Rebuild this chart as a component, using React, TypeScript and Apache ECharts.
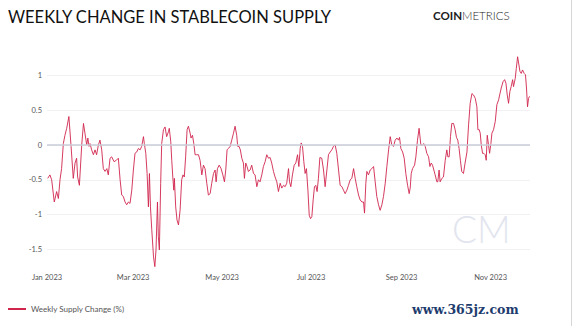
import React, { useEffect, useRef } from "react";
import * as echarts from "echarts";

// Day offsets from 2023-01-01 and weekly supply change (%)
const dayOffsets = [
  0.5, 2, 3.2, 5, 6.6, 7.8, 8.9, 10, 11.2, 12.3, 13.5, 15, 16.5, 18, 19.2, 20.3, 21, 22.2, 23.8, 25,
  26, 27.2, 28, 28.8, 29.5, 30.6, 31.8, 32.9, 34, 35.2, 36.3, 37.5, 38.6, 39.8, 41, 42, 43.2, 44.3, 46, 47.5,
  48.9, 50.1, 51.2, 52.3, 53.5, 54.6, 55.8, 56.9, 58.1, 59.2, 60.3, 61.5, 62.6, 63.8, 64.9, 66.1, 66.7, 67.7, 68.6, 69.5,
  70.2, 70.9, 71.8, 73, 73.9, 74.7, 75.7, 76.3, 77, 77.9, 78.6, 79.8, 80.9, 82, 83.2, 83.8, 84.8, 85.5, 86.2, 86.9,
  87.3, 88.2, 89.1, 90.1, 91.2, 92.3, 93.2, 94.1, 95, 96, 96.9, 98.1, 98.7, 99.7, 100.6, 101.5, 102.6, 103.8, 104.9, 106.1,
  107.2, 108.3, 109.5, 110.6, 111.8, 112.9, 114.1, 115.2, 115.9, 116.8, 118, 119.3, 120.5, 121.6, 122.5, 123.4, 124.3, 125.5, 126.6, 127.8,
  128.9, 130, 130.7, 131.6, 132.5, 133.5, 134.6, 135.3, 136.2, 137.1, 138, 139.2, 140.3, 141.5, 142.6, 143.8, 144.9, 146, 147.2, 148.3,
  149.5, 150.6, 151.8, 152.9, 154, 155.2, 156.3, 157.5, 158.6, 159.8, 160.9, 162.1, 163.2, 164.3, 165.5, 166.2, 167.1, 168.2, 169.4, 170.5,
  171.7, 172.6, 173.5, 174.2, 175.1, 176, 176.9, 177.8, 178.8, 179.7, 180.6, 181.5, 182.4, 183.3, 184.2, 185.1, 186, 187, 188.3, 189.5,
  190.6, 191.8, 192.9, 194.1, 195.2, 196.3, 197.5, 198.6, 199.8, 200.9, 202.1, 203.2, 204.3, 205.5, 206.6, 207.8, 208.9, 210.1, 211.2, 212.3,
  213.5, 214.6, 215.8, 216.9, 217.6, 218.5, 219.2, 220.3, 221.5, 222.6, 223.8, 224.9, 226, 227.2, 228.3, 229.5, 230.6, 231.8, 232.9, 234.1,
  235.2, 236.3, 237.5, 238.6, 239.8, 240.9, 241.6, 242.5, 243.7, 244.8, 245.9, 247.1, 248.2, 248.9, 249.6, 250.5, 251.9, 252.8, 253.9, 255,
  256.2, 257.3, 258.3, 259.2, 260.3, 261.5, 262.4, 263.3, 264.2, 265.1, 266, 267.2, 267.8, 268.7, 269.4, 270.6, 271.7, 272.9, 274, 274.7,
  275.6, 276.5, 277.4, 278.6, 279.7, 280.6, 281.5, 282.4, 283.3, 284.2, 285.4, 286.5, 287.8, 288.9, 290, 291.2, 292.3, 293.5, 294.6, 295.3,
  296.2, 296.9, 297.6, 298.5, 299.4, 300.3, 301, 301.7, 302.6, 303.3, 304.2, 304.9, 306, 307.2, 308.3, 309.5, 310.2, 311.3, 312.5, 313.6,
  314.5, 315.4, 316.3, 317.2, 318.1, 319.1, 319.7, 320.9, 321.6, 322.5, 323.2, 324.1, 325, 325.9, 327, 327.9, 328.6, 329.3, 330, 330.7,
];

const supplyChange = [
  -0.48, -0.43, -0.5, -0.82, -0.67, -0.77, -0.5, -0.34, 0.02, 0.14, 0.24, 0.41, -0.02, -0.48, -0.26, -0.19, -0.46, -0.58, 0, 0.31,
  0.17, 0, 0.1, -0.02, 0.02, -0.07, -0.14, -0.07, -0.14, 0, 0.07, -0.07, -0.34, -0.38, -0.34, -0.43, -0.19, -0.17, -0.24, -0.22,
  -0.19, -0.5, -0.72, -0.74, -0.82, -0.86, -0.82, -0.84, -0.65, -0.36, -0.12, -0.1, -0.05, -0.07, -0.02, 0.12, 0.02, -0.12, -0.41, -0.89,
  -0.41, -0.89, -1.22, -1.61, -1.75, -1.51, -0.82, -1.32, -1.51, -0.55, 0.02, 0.22, 0.26, 0.12, 0.19, 0.24, 0.05, -0.22, -0.46, -0.65,
  -0.48, -0.89, -1.08, -1.15, -0.94, -0.5, -0.43, -0.46, -0.17, 0.22, 0.27, 0.17, 0.1, 0.14, 0.02, -0.14, -0.14, -0.14, -0.22, -0.43,
  -0.29, -0.34, -0.55, -0.72, -0.7, -0.55, -0.41, -0.36, -0.53, -0.34, -0.29, -0.34, -0.43, -0.53, -0.36, -0.07, -0.05, -0.02, 0.07, 0.17,
  0.27, 0.14, -0.02, -0.02, -0.07, -0.19, -0.26, -0.48, -0.26, -0.31, -0.38, -0.36, -0.29, -0.41, -0.43, -0.6, -0.5, -0.53, -0.43, -0.31,
  -0.24, -0.14, -0.19, -0.18, -0.26, -0.38, -0.46, -0.53, -0.67, -0.55, -0.62, -0.58, -0.6, -0.55, -0.34, -0.53, -0.6, -0.43, -0.29, -0.26,
  -0.14, -0.31, -0.05, 0.03, -0.02, -0.24, -0.41, -0.34, -0.65, -1.01, -1.06, -1.03, -0.79, -0.6, -0.58, -0.67, -0.48, -0.18, -0.19, -0.36,
  -0.6, -0.36, -0.14, -0.1, -0.07, -0.02, 0, -0.12, -0.36, -0.58, -0.6, -0.65, -0.7, -0.65, -0.58, -0.5, -0.48, -0.34, -0.48, -0.6,
  -0.72, -0.79, -0.82, -0.82, -0.98, -0.55, -0.38, -0.43, -0.36, -0.34, -0.31, -0.53, -0.74, -0.86, -0.94, -0.86, -0.74, -0.55, -0.31, -0.07,
  0.12, 0, -0.02, 0.07, 0.1, 0.07, 0.11, -0.05, -0.1, -0.19, -0.41, -0.58, -0.7, -0.62, -0.41, -0.34, -0.29, -0.17, 0.07, 0.24,
  0, 0, 0.02, -0.02, -0.12, -0.17, -0.31, -0.26, -0.29, -0.36, -0.43, -0.53, -0.53, -0.36, -0.53, -0.48, -0.46, -0.22, -0.07, -0.17,
  -0.17, 0.12, 0.31, 0.31, 0.22, 0.11, 0.07, -0.05, -0.22, -0.38, -0.41, -0.26, -0.1, 0.29, 0.6, 0.74, 0.72, 0.67, 0.55, 0.22,
  0.22, 0.17, 0, -0.12, -0.12, -0.14, -0.22, 0.14, 0, -0.12, 0.02, 0.17, 0.22, 0.34, 0.58, 0.65, 0.72, 0.82, 0.91, 0.94,
  0.89, 0.72, 0.6, 0.77, 0.84, 0.94, 0.84, 0.96, 1.1, 1.27, 1.18, 1.06, 1.03, 1.08, 1.03, 1.01, 0.82, 0.55, 0.67, 0.7,
];

const monthTicks = ["2023-01-01", "2023-03-01", "2023-05-01", "2023-07-01", "2023-09-01", "2023-11-01"];
const monthNames = ["Jan", "Feb", "Mar", "Apr", "May", "Jun", "Jul", "Aug", "Sep", "Oct", "Nov", "Dec"];
const axisStart = "2023-01-01";
const axisEnd = "2023-11-28";
const seriesName = "Weekly Supply Change (%)";

const DAY = 86400000;
const toMs = (s: string) => new Date(s + "T00:00:00Z").getTime();

export default function App() {
  const ref = useRef<HTMLDivElement>(null);

  useEffect(() => {
    document.body.style.margin = "0";
    if (!ref.current) return;
    const chart = echarts.init(ref.current, undefined, { renderer: "svg" });
    const start = toMs(axisStart);
    const data = dayOffsets.map((d, i) => [start + d * DAY, supplyChange[i]]);
    const font = "Lato";

    chart.setOption({
      animation: false,
      backgroundColor: "#ffffff",
      title: {
        text: "WEEKLY CHANGE IN STABLECOIN SUPPLY",
        left: 3,
        top: 3,
        textStyle: { fontFamily: font, fontSize: 16.5, fontWeight: "normal", color: "#111111" },
      },
      legend: {
        data: [seriesName],
        left: 8,
        top: 305,
        padding: 0,
        icon: "rect",
        itemWidth: 18,
        itemHeight: 2,
        textStyle: { fontFamily: font, fontSize: 8, color: "#555555" },
      },
      grid: { left: 47, right: 43, top: 75.5, bottom: 76.75, containLabel: false },
      xAxis: {
        type: "value",
        min: start,
        max: toMs(axisEnd),
        axisLine: { show: false },
        axisTick: { show: false },
        splitLine: { show: false },
        axisLabel: {
          customValues: monthTicks.map(toMs),
          margin: 24,
          fontFamily: font,
          fontSize: 7.5,
          color: "#555555",
          formatter: (v: number) => {
            const dt = new Date(v);
            return monthNames[dt.getUTCMonth()] + " " + dt.getUTCFullYear();
          },
        },
      },
      yAxis: {
        type: "value",
        min: -1.5,
        max: 1,
        interval: 0.5,
        axisLine: { show: false },
        axisTick: { show: false },
        axisLabel: { fontFamily: font, fontSize: 7.5, color: "#555555", margin: 5 },
        splitLine: { lineStyle: { color: "#f1f1f3", width: 1 } },
      },
      series: [
        {
          type: "line",
          name: "zero",
          data: [],
          z: 1,
          silent: true,
          markLine: {
            silent: true,
            symbol: "none",
            label: { show: false },
            lineStyle: { color: "#c9ccd7", width: 1.6, type: "solid" },
            data: [{ yAxis: 0 }],
          },
        },
        {
          type: "line",
          name: seriesName,
          data,
          z: 3,
          clip: false,
          showSymbol: false,
          symbol: "none",
          lineStyle: { color: "#d0254d", width: 0.9 },
          itemStyle: { color: "#d0254d" },
        },
      ],
      graphic: [
        {
          type: "text",
          left: 433,
          top: 9,
          style: {
            text: "{b|COIN}{l|METRICS}",
            rich: {
              b: { fontFamily: font, fontSize: 11.5, fontWeight: "bold", fill: "#1c1c1c" },
              l: { fontFamily: font, fontSize: 11.5, fontWeight: 300, fill: "#1c1c1c" },
            },
          },
        },
        {
          type: "text",
          left: 452,
          top: 210,
          z: 0,
          style: { text: "CM", fontFamily: font, fontSize: 37, fontWeight: 300, fill: "#e2e5ee" },
        },
        {
          type: "text",
          left: 412,
          top: 303,
          style: { text: "www.365jz.com", fontFamily: "DejaVu Serif", fontSize: 12.5, fontWeight: "bold", fill: "#1d3c6e" },
        },
        {
          type: "line",
          shape: { x1: 571.5, y1: 0, x2: 571.5, y2: 326 },
          style: { stroke: "#d6d6d6", lineWidth: 1 },
        },
      ],
    });

    return () => chart.dispose();
  }, []);

  return <div ref={ref} style={{ width: 573, height: 326 }} />;
}
